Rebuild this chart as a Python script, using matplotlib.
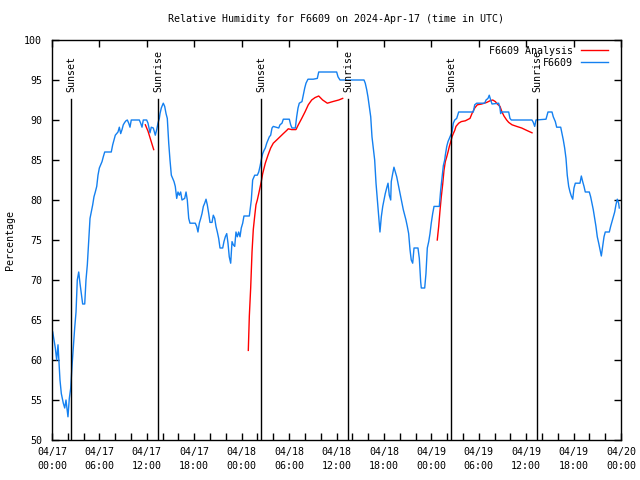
import matplotlib
matplotlib.use("Agg")
import matplotlib.pyplot as plt
import pandas as pd

plt.rcParams.update({"font.family": "DejaVu Sans Mono", "font.size": 7.2})

T0 = pd.Timestamp("2024-04-17 00:00")
TITLE = "Relative Humidity for F6609 on 2024-Apr-17 (time in UTC)"

# observed RH, hours since 04/17 00:00 UTC
obs_h = [0.09, 0.25, 0.42, 0.59, 0.76, 0.85, 1.01, 1.18, 1.43, 1.61, 1.77, 2.02, 2.19, 2.37, 2.53, 2.70,
         2.87, 3.04, 3.20, 3.38, 3.54, 3.71, 3.88, 4.14, 4.30, 4.47, 4.64, 4.81, 4.97, 5.15, 5.31, 5.48,
         5.66, 5.82, 5.99, 6.16, 6.33, 6.49, 6.67, 7.50, 7.68, 7.85, 8.01, 8.35, 8.52, 8.69, 8.86, 9.02,
         9.20, 9.36, 9.53, 9.71, 9.87, 10.03, 11.05, 11.22, 11.39, 11.55, 11.98, 12.15, 12.40, 12.56,
         12.82, 13.07, 13.25, 13.41, 13.58, 13.67, 13.83, 14.08, 14.26, 14.43, 14.59, 14.77, 14.93,
         15.10, 15.27, 15.44, 15.60, 15.78, 15.94, 16.11, 16.28, 16.45, 16.79, 16.96, 17.12, 17.30,
         17.46, 18.13, 18.31, 18.47, 18.64, 18.82, 18.98, 19.15, 19.32, 19.49, 19.65, 19.83, 19.99,
         20.25, 20.41, 20.59, 20.75, 20.92, 21.09, 21.26, 21.60, 21.76, 21.93, 22.11, 22.27, 22.43,
         22.61, 22.78, 22.94, 23.12, 23.28, 23.45, 23.62, 23.79, 23.95, 24.13, 24.29, 24.97, 25.22,
         25.39, 25.65, 25.98, 26.16, 26.32, 26.48, 26.66, 26.83, 26.99, 27.17, 27.33, 27.50, 27.67,
         27.84, 28.00, 28.69, 28.85, 29.10, 29.27, 30.03, 30.20, 30.37, 30.79, 30.96, 31.13, 31.29,
         31.63, 31.80, 31.98, 32.14, 32.39, 33.06, 33.57, 33.75, 36.02, 36.19, 36.44, 39.48, 39.64,
         39.82, 39.98, 40.15, 40.33, 40.49, 40.66, 40.83, 41.00, 41.17, 41.34, 41.50, 41.67, 41.85,
         42.01, 42.17, 42.35, 42.52, 42.68, 42.86, 42.93, 43.11, 43.27, 43.44, 43.62, 43.78, 43.95,
         44.12, 44.29, 44.45, 44.63, 44.79, 44.96, 45.13, 45.30, 45.46, 45.64, 45.81, 46.31, 46.48,
         46.65, 46.73, 47.16, 47.32, 47.49, 47.67, 47.83, 47.99, 48.17, 48.34, 49.01, 49.18, 49.35,
         49.52, 49.69, 49.77, 49.95, 50.11, 50.28, 50.46, 50.62, 50.78, 50.96, 51.21, 51.46, 53.31,
         53.49, 53.74, 54.75, 54.92, 55.17, 55.33, 55.51, 55.68, 56.52, 56.69, 56.77, 56.85, 57.79,
         57.95, 58.12, 60.74, 60.90, 61.08, 61.24, 62.51, 62.76, 63.27, 63.43, 63.69, 63.86, 64.37,
         64.53, 64.70, 64.87, 65.04, 65.20, 65.38, 65.55, 65.71, 65.89, 66.05, 66.22, 66.81, 66.98,
         67.15, 67.32, 67.48, 67.99, 68.16, 68.33, 68.49, 68.67, 68.83, 69.00, 69.18, 69.34, 69.51,
         69.68, 69.85, 70.01, 70.52, 70.69, 70.86, 71.02, 71.20, 71.36, 71.53, 71.70, 71.78]
obs_rh = [63.5, 62.5, 61.5, 60.0, 61.9, 60.4, 57.5, 55.8, 54.6, 54.0, 55.0, 52.9, 55.2, 56.5, 59.2, 61.7,
          64.0, 66.0, 70.0, 71.0, 69.6, 68.3, 67.0, 67.0, 70.0, 71.9, 74.8, 77.7, 78.5, 79.4, 80.4, 81.0,
          81.7, 83.1, 84.0, 84.4, 84.8, 85.4, 86.0, 86.0, 86.9, 87.5, 88.1, 88.5, 89.1, 88.3, 88.8, 89.4,
          89.7, 89.9, 90.0, 89.6, 89.1, 90.0, 90.0, 89.6, 89.1, 90.0, 90.0, 89.6, 88.4, 89.1,
          89.0, 88.1, 88.8, 89.6, 90.2, 90.8, 91.5, 92.1, 91.7, 90.8, 90.2, 87.1, 85.0,
          83.1, 82.7, 82.3, 81.7, 80.2, 81.0, 80.6, 81.0, 80.0, 80.2, 81.0, 80.0, 77.7,
          77.1, 77.1, 76.7, 76.0, 77.1, 77.7, 78.3, 79.2, 79.6, 80.1, 79.4, 78.3, 77.2,
          77.2, 78.1, 77.7, 76.7, 76.0, 75.2, 74.0, 74.0, 74.8, 75.4, 75.8, 74.6, 72.9,
          72.1, 74.8, 74.4, 74.2, 76.0, 75.4, 76.0, 75.4, 76.5, 77.1, 78.0, 78.0, 80.0,
          82.5, 83.1, 83.1, 83.5, 84.2, 85.0, 85.8, 86.2, 86.5, 87.1, 87.5, 87.9, 88.1,
          89.0, 89.2, 89.0, 89.4, 89.6, 90.1, 90.1, 89.4, 89.0, 89.0, 90.4, 91.5, 92.1,
          92.3, 93.1, 94.0, 94.6, 95.1, 95.1, 95.2, 96.0, 96.0, 95.4, 95.0, 95.0, 94.6,
          93.8, 92.9, 91.7, 90.4, 87.9, 86.5, 85.0, 82.1, 80.0, 77.9, 76.0, 77.9, 79.2,
          80.0, 80.8, 81.5, 82.1, 80.6, 80.0, 82.3, 83.3, 84.1, 83.5, 82.9, 82.1, 81.2,
          80.4, 79.6, 78.8, 78.1, 77.5, 76.7, 75.8, 73.8, 72.5, 72.1, 74.0, 74.0, 72.7,
          69.8, 69.0, 69.0, 70.8, 74.0, 74.8, 75.8, 77.1, 78.3, 79.2, 79.2, 81.2, 82.8,
          84.3, 85.0, 85.6, 86.7, 87.3, 87.7, 88.1, 88.5, 89.6, 90.0, 90.2, 91.0, 91.0,
          91.9, 92.1, 92.1, 92.5, 92.7, 93.1, 92.5, 92.0, 92.1, 91.5, 90.8, 91.0, 91.0,
          90.2, 90.0, 90.0, 89.7, 89.2, 90.0, 90.1, 91.0, 91.0, 90.4, 89.8, 89.1, 89.1,
          88.3, 87.5, 86.5, 85.2, 83.1, 81.7, 81.0, 80.5, 80.1, 81.5, 82.1, 82.1, 83.0,
          82.3, 81.7, 81.0, 81.0, 80.4, 79.6, 78.8, 77.7, 76.7, 75.4, 74.6, 73.8, 73.0,
          74.2, 75.4, 76.0, 76.0, 76.7, 77.3, 77.9, 78.5, 79.4, 80.1, 79.6, 79.0]

# analysis segments
an1_h = [11.81, 12.15, 12.40, 12.65, 12.87]
an1_rh = [89.4, 88.6, 87.8, 87.0, 86.3]
an2_h = [24.84, 24.97, 25.14, 25.31, 25.47, 25.65, 25.81, 25.98, 26.16, 26.48, 26.66, 26.99, 27.33,
         27.67, 28.00, 28.43, 28.85, 29.27, 29.70, 29.90, 30.33, 30.87, 31.17, 31.60, 32.01, 32.43,
         32.86, 33.28, 33.75, 34.25, 34.84, 35.52, 36.28, 36.78]
an2_rh = [61.2, 65.5, 69.0, 73.5, 76.3, 78.0, 79.4, 80.0, 80.8, 82.3, 83.3, 84.6, 85.6,
          86.5, 87.1, 87.5, 87.9, 88.3, 88.7, 88.9, 88.8, 88.8, 89.4, 90.2, 91.0, 91.9,
          92.5, 92.8, 93.0, 92.5, 92.1, 92.3, 92.5, 92.7]
an3_h = [48.75, 48.93, 49.09, 49.26, 49.44, 49.60, 49.77, 49.95, 50.11, 50.28, 50.46, 50.62, 50.78,
         50.96, 51.12, 51.46, 51.79, 52.30, 52.89, 53.14, 53.49, 53.82, 54.37, 55.01, 55.42, 55.77,
         56.10, 56.35, 56.69, 56.94, 57.19, 57.53, 57.79, 58.21, 58.80, 59.43, 60.07, 60.74]
an3_rh = [75.0, 76.7, 78.6, 80.4, 82.0, 83.7, 84.8, 85.4, 86.0, 86.7, 87.3, 87.9, 88.3,
          88.7, 89.2, 89.6, 89.8, 89.9, 90.2, 90.8, 91.5, 91.9, 92.0, 92.2, 92.4, 92.5,
          92.3, 92.0, 91.7, 91.0, 90.5, 90.0, 89.7, 89.4, 89.2, 89.0, 88.7, 88.4]

sun_h = [2.44, 13.45, 26.48, 37.49, 50.53, 61.41]
sun_lbl = ["Sunset", "Sunrise", "Sunset", "Sunrise", "Sunset", "Sunrise"]

def tt(h):
    return T0 + pd.to_timedelta(h, unit="h")

fig = plt.figure(figsize=(6.4, 4.8), dpi=100)
ax = fig.add_axes([52/640, 40/480, 569/640, 400/480])

RED, BLUE = "#ff0000", "#1480f0"
ax.plot(tt(an1_h), an1_rh, color=RED, lw=1.0, label="F6609 Analysis")
ax.plot(tt(an2_h), an2_rh, color=RED, lw=1.0)
ax.plot(tt(an3_h), an3_rh, color=RED, lw=1.0)
ax.plot(tt(obs_h), obs_rh, color=BLUE, lw=1.0, label="F6609")

for h, s in zip(sun_h, sun_lbl):
    ax.plot([tt(h), tt(h)], [50, 92.6], color="black", lw=1.0)
    ax.text(tt(h), 93.5, s, rotation=90, ha="center", va="bottom")

ax.set_xlim(T0, T0 + pd.Timedelta(hours=72))
ax.set_ylim(50, 100)
ax.set_yticks(range(50, 101, 5))
xt = pd.date_range(T0, periods=13, freq="6h")
ax.set_xticks(xt)
ax.set_xticklabels([t.strftime("%m/%d\n%H:%M") for t in xt])
for l in ax.get_xticklabels():
    l.set_linespacing(1.45)
ax.set_xticks(pd.date_range(T0, periods=37, freq="2h"), minor=True)
ax.tick_params(which="major", direction="in", top=True, right=True, length=5, width=1, pad=5)
ax.tick_params(which="minor", direction="in", top=False, bottom=True, length=5, width=1)
ax.tick_params(axis="y", pad=7)
for s in ax.spines.values():
    s.set_linewidth(1.0)

ax.set_ylabel("Percentage")
ax.yaxis.set_label_coords(-0.065, 0.5)
ax.set_title(TITLE, fontsize=7.2, pad=13)

leg = ax.legend(loc="upper right", bbox_to_anchor=(0.9805, 0.99), frameon=False, markerfirst=False,
                handlelength=2.7, handletextpad=0.8, labelspacing=0.2, borderpad=0.2, borderaxespad=0)

fig.savefig("out.png", dpi=100)
